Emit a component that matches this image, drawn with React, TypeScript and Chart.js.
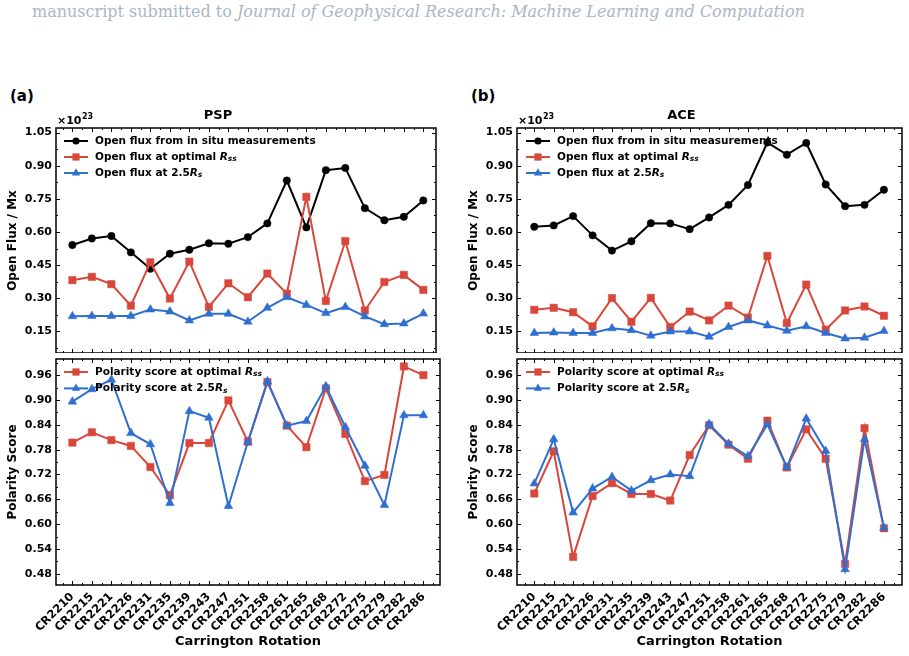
import React, { useEffect, useRef } from 'react';
import { Chart, registerables } from 'chart.js';

Chart.register(...registerables);

const CATEGORIES = ['CR2210', 'CR2215', 'CR2221', 'CR2226', 'CR2231', 'CR2235', 'CR2239', 'CR2243', 'CR2247', 'CR2251', 'CR2258', 'CR2261', 'CR2265', 'CR2268', 'CR2272', 'CR2275', 'CR2279', 'CR2282', 'CR2286'];

// Open flux (units of 1e23 Mx)
const PSP_FLUX_INSITU = [0.541, 0.571, 0.582, 0.508, 0.434, 0.502, 0.52, 0.549, 0.547, 0.577, 0.639, 0.833, 0.621, 0.88, 0.89, 0.708, 0.653, 0.669, 0.743];
const PSP_FLUX_OPT = [0.382, 0.397, 0.364, 0.267, 0.463, 0.299, 0.466, 0.261, 0.368, 0.305, 0.412, 0.321, 0.759, 0.288, 0.559, 0.245, 0.374, 0.406, 0.338];
const PSP_FLUX_25 = [0.219, 0.22, 0.22, 0.22, 0.249, 0.24, 0.2, 0.23, 0.23, 0.194, 0.257, 0.305, 0.27, 0.233, 0.261, 0.218, 0.183, 0.186, 0.231];

const ACE_FLUX_INSITU = [0.624, 0.63, 0.672, 0.585, 0.516, 0.558, 0.64, 0.639, 0.613, 0.666, 0.723, 0.813, 1.005, 0.95, 1.003, 0.815, 0.717, 0.723, 0.791];
const ACE_FLUX_OPT = [0.248, 0.257, 0.237, 0.173, 0.301, 0.194, 0.302, 0.17, 0.24, 0.2, 0.267, 0.213, 0.492, 0.188, 0.362, 0.158, 0.245, 0.263, 0.221];
const ACE_FLUX_25 = [0.143, 0.145, 0.143, 0.143, 0.164, 0.156, 0.131, 0.15, 0.15, 0.126, 0.17, 0.2, 0.177, 0.153, 0.173, 0.143, 0.118, 0.122, 0.152];

// Polarity scores
const PSP_POL_OPT = [0.797, 0.822, 0.803, 0.789, 0.738, 0.67, 0.796, 0.796, 0.899, 0.799, 0.943, 0.838, 0.786, 0.928, 0.818, 0.704, 0.719, 0.981, 0.96];
const PSP_POL_25 = [0.896, 0.926, 0.949, 0.82, 0.793, 0.651, 0.873, 0.857, 0.644, 0.799, 0.945, 0.838, 0.849, 0.933, 0.834, 0.741, 0.646, 0.863, 0.863];
const ACE_POL_OPT = [0.674, 0.776, 0.521, 0.668, 0.699, 0.673, 0.673, 0.657, 0.767, 0.839, 0.792, 0.758, 0.85, 0.737, 0.829, 0.758, 0.504, 0.832, 0.59];
const ACE_POL_25 = [0.698, 0.805, 0.628, 0.686, 0.714, 0.681, 0.706, 0.72, 0.716, 0.842, 0.794, 0.764, 0.841, 0.737, 0.855, 0.777, 0.491, 0.805, 0.591];

const FLUX_TICKS = [0.15, 0.3, 0.45, 0.6, 0.75, 0.9, 1.05];
const POL_TICKS = [0.48, 0.54, 0.6, 0.66, 0.72, 0.78, 0.84, 0.9, 0.96];

const BLACK = '#000000';
const RED = '#d8473a';
const BLUE = '#2f6fd0';
const FONT = 'DejaVu Sans';

type Part = { t: string; it?: boolean; sub?: boolean };
type LegendItem = { parts: Part[]; color: string; marker: string };

const FLUX_LEGEND: LegendItem[] = [
  { parts: [{ t: 'Open flux from in situ measurements' }], color: BLACK, marker: 'circle' },
  { parts: [{ t: 'Open flux at optimal ' }, { t: 'R', it: true }, { t: 'ss', it: true, sub: true }], color: RED, marker: 'rect' },
  { parts: [{ t: 'Open flux at 2.5' }, { t: 'R', it: true }, { t: 's', it: true, sub: true }], color: BLUE, marker: 'triangle' },
];
const POL_LEGEND: LegendItem[] = [
  { parts: [{ t: 'Polarity score at optimal ' }, { t: 'R', it: true }, { t: 'ss', it: true, sub: true }], color: RED, marker: 'rect' },
  { parts: [{ t: 'Polarity score at 2.5' }, { t: 'R', it: true }, { t: 's', it: true, sub: true }], color: BLUE, marker: 'triangle' },
];

function drawMarker(ctx: CanvasRenderingContext2D, kind: string, x: number, y: number, color: string) {
  ctx.save();
  ctx.fillStyle = color;
  ctx.beginPath();
  if (kind === 'circle') {
    ctx.arc(x, y, 3.6, 0, Math.PI * 2);
  } else if (kind === 'rect') {
    ctx.rect(x - 3.6, y - 3.6, 7.2, 7.2);
  } else {
    const r = 4.8;
    ctx.moveTo(x, y - r);
    ctx.lineTo(x + r * 0.866, y + r * 0.5);
    ctx.lineTo(x - r * 0.866, y + r * 0.5);
    ctx.closePath();
  }
  ctx.fill();
  ctx.restore();
}

const frameTicksPlugin = {
  id: 'frameTicks',
  afterDraw(chart: any, _args: any, opts: any) {
    const { ctx, chartArea, scales } = chart;
    const { left, right, top, bottom } = chartArea;
    const x = scales.x;
    const y = scales.y;
    ctx.save();
    ctx.strokeStyle = '#000';
    ctx.lineWidth = 1;
    const yt: number[] = opts.yTicks;
    const step = yt[1] - yt[0];
    const line = (x1: number, y1: number, x2: number, y2: number) => {
      ctx.beginPath();
      ctx.moveTo(x1, y1);
      ctx.lineTo(x2, y2);
      ctx.stroke();
    };
    yt.forEach((v) => {
      const p = Math.round(y.getPixelForValue(v)) + 0.5;
      line(left, p, left + 4, p);
      line(right - 4, p, right, p);
    });
    for (let v = yt[0] - step / 2; v <= y.max; v += step) {
      if (v < y.min) continue;
      const p = Math.round(y.getPixelForValue(v)) + 0.5;
      line(left, p, left + 2, p);
      line(right - 2, p, right, p);
    }
    for (let i = 0; i < CATEGORIES.length; i++) {
      const p = Math.round(x.getPixelForValue(i)) + 0.5;
      line(p, bottom, p, bottom - 4);
      line(p, top, p, top + 4);
    }
    for (let i = -0.5; i <= x.max; i += 1) {
      if (i < x.min) continue;
      const p = Math.round(x.getPixelForValue(i)) + 0.5;
      line(p, bottom, p, bottom - 2);
      line(p, top, p, top + 2);
    }
    ctx.lineWidth = 1.5;
    ctx.strokeRect(left, top, right - left, bottom - top);

    if (opts.offsetText) {
      ctx.fillStyle = '#000';
      ctx.textBaseline = 'alphabetic';
      ctx.textAlign = 'left';
      ctx.font = `bold 11px "${FONT}"`;
      ctx.fillText('×10', left + 1, top - 4);
      const w = ctx.measureText('×10').width;
      ctx.font = `bold 8px "${FONT}"`;
      ctx.fillText('23', left + 1 + w + 0.5, top - 9);
    }

    // legend
    const items: LegendItem[] = opts.legend || [];
    items.forEach((it, k) => {
      const ly = top + opts.legendY + k * opts.legendDy;
      const lx = left + opts.legendX;
      ctx.strokeStyle = it.color;
      ctx.lineWidth = 2;
      line(lx, ly, lx + 24, ly);
      drawMarker(ctx, it.marker, lx + 12, ly, it.color);
      let tx = lx + 31;
      ctx.fillStyle = '#000';
      ctx.textAlign = 'left';
      ctx.textBaseline = 'middle';
      it.parts.forEach((pt) => {
        const size = pt.sub ? 7.5 : 10.5;
        ctx.font = `${pt.it ? 'italic ' : ''}bold ${size}px "${FONT}"`;
        ctx.fillText(pt.t, tx, ly + (pt.sub ? 2.5 : 0));
        tx += ctx.measureText(pt.t).width;
      });
    });
    ctx.restore();
  },
};

function ds(label: string, values: number[], color: string, style: string, order: number) {
  const r = style === 'circle' ? 3.7 : style === 'rect' ? 5.2 : 5;
  return {
    label,
    data: values.map((v, i) => ({ x: i, y: v })),
    borderColor: color,
    backgroundColor: color,
    pointBackgroundColor: color,
    pointBorderColor: color,
    pointBorderWidth: 0.5,
    pointStyle: style,
    pointRadius: r,
    borderWidth: 2,
    tension: 0,
    order,
    clip: false,
  };
}

type PanelCfg = {
  top: boolean;
  title?: string;
  datasets: any[];
  yTicks: number[];
  yMin: number;
  yMax: number;
  xMin: number;
  xMax: number;
  yTitle: string;
  rightPad: number;
  legend: LegendItem[];
  legendX: number;
};

const zeroPad = (s: any) => {
  s.paddingTop = 0;
  s.paddingBottom = 0;
  s.paddingLeft = 0;
  s.paddingRight = 0;
};

function makeConfig(p: PanelCfg): any {
  const tickFont = { family: FONT, size: 11, weight: 'bold' as const };
  return {
    type: 'line',
    data: { datasets: p.datasets },
    plugins: [frameTicksPlugin],
    options: {
      animation: false,
      responsive: false,
      maintainAspectRatio: false,
      layout: { autoPadding: false, padding: { left: 0, right: p.rightPad, top: p.top ? 0 : 3, bottom: 0 } },
      plugins: {
        legend: { display: false },
        tooltip: { enabled: false },
        title: {
          display: !!p.title,
          text: p.title || '',
          color: '#000',
          font: { family: FONT, size: 13, weight: 'bold' },
          padding: { top: 8.2, bottom: 4.2 },
        },
        frameTicks: {
          yTicks: p.yTicks,
          offsetText: p.top,
          legend: p.legend,
          legendX: p.legendX,
          legendY: 13,
          legendDy: p.top ? 16 : 16.4,
        },
      },
      scales: {
        x: {
          type: 'linear',
          min: p.xMin,
          max: p.xMax,
          display: !p.top,
          afterBuildTicks: (s: any) => {
            s.ticks = CATEGORIES.map((_, i) => ({ value: i }));
          },
          afterFit: (s: any) => {
            s.height = p.top ? 0 : 71;
            zeroPad(s);
          },
          grid: { display: false, drawTicks: false },
          border: { display: false },
          ticks: {
            autoSkip: false,
            minRotation: 45,
            maxRotation: 45,
            padding: 5,
            color: '#000',
            font: { family: FONT, size: 11.5, weight: 'bold' },
            callback: (v: number) => CATEGORIES[Math.round(v)] ?? '',
          },
          title: {
            display: true,
            text: 'Carrington Rotation',
            color: '#000',
            font: { family: FONT, size: 13, weight: 'bold' },
            padding: { top: 0, bottom: 7 },
          },
        },
        y: {
          type: 'linear',
          min: p.yMin,
          max: p.yMax,
          afterBuildTicks: (s: any) => {
            s.ticks = p.yTicks.map((v) => ({ value: v }));
          },
          afterFit: (s: any) => {
            s.width = 56;
            zeroPad(s);
          },
          grid: { display: false, drawTicks: false },
          border: { display: false },
          ticks: {
            padding: 4,
            color: '#000',
            font: tickFont,
            callback: (v: number) => v.toFixed(2),
          },
          title: {
            display: true,
            text: p.yTitle,
            color: '#000',
            font: { family: FONT, size: 12, weight: 'bold' },
            padding: { top: 5.8, bottom: 0 },
          },
        },
      },
    },
  };
}

export default function App() {
  const tl = useRef<HTMLCanvasElement>(null);
  const bl = useRef<HTMLCanvasElement>(null);
  const tr = useRef<HTMLCanvasElement>(null);
  const br = useRef<HTMLCanvasElement>(null);

  useEffect(() => {
    const charts: Chart[] = [];
    const fluxSets = (a: number[], b: number[], c: number[]) => [
      ds('Open flux from in situ measurements', a, BLACK, 'circle', 2),
      ds('Open flux at optimal Rss', b, RED, 'rect', 1),
      ds('Open flux at 2.5Rs', c, BLUE, 'triangle', 0),
    ];
    const polSets = (b: number[], c: number[]) => [
      ds('Polarity score at optimal Rss', b, RED, 'rect', 1),
      ds('Polarity score at 2.5Rs', c, BLUE, 'triangle', 0),
    ];
    const topCommon = { top: true, yTicks: FLUX_TICKS, yMin: 0.0525, yMax: 1.0708, yTitle: 'Open Flux / Mx', legend: FLUX_LEGEND };
    const botCommon = { top: false, yTicks: POL_TICKS, yMin: 0.453, yMax: 0.999, yTitle: 'Polarity Score', legend: POL_LEGEND };
    charts.push(new Chart(tl.current!, makeConfig({ ...topCommon, title: 'PSP', datasets: fluxSets(PSP_FLUX_INSITU, PSP_FLUX_OPT, PSP_FLUX_25), xMin: -0.84, xMax: 18.65, rightPad: 14, legendX: 8 })));
    charts.push(new Chart(bl.current!, makeConfig({ ...botCommon, datasets: polSets(PSP_POL_OPT, PSP_POL_25), xMin: -0.84, xMax: 18.85, rightPad: 10, legendX: 8 })));
    charts.push(new Chart(tr.current!, makeConfig({ ...topCommon, title: 'ACE', datasets: fluxSets(ACE_FLUX_INSITU, ACE_FLUX_OPT, ACE_FLUX_25), xMin: -0.89, xMax: 18.93, rightPad: 6, legendX: 9 })));
    charts.push(new Chart(br.current!, makeConfig({ ...botCommon, datasets: polSets(ACE_POL_OPT, ACE_POL_25), xMin: -0.89, xMax: 18.93, rightPad: 6, legendX: 9 })));
    return () => charts.forEach((c) => c.destroy());
  }, []);

  const abs = (left: number, top: number, width: number, height: number): React.CSSProperties => ({ position: 'absolute', left, top, width, height });

  return (
    <div style={{ position: 'fixed', left: 0, top: 0, width: 909, height: 656, background: '#fff', overflow: 'hidden' }}>
      <div style={{ position: 'absolute', left: 32, top: 2, whiteSpace: 'nowrap', fontFamily: '"DejaVu Serif", serif', fontSize: 16, color: '#a9b7c6' }}>
        manuscript submitted to <i>Journal of Geophysical Research: Machine Learning and Computation</i>
      </div>
      <div style={{ position: 'absolute', left: 10, top: 87, fontFamily: FONT, fontWeight: 'bold', fontSize: 15, color: '#000' }}>(a)</div>
      <div style={{ position: 'absolute', left: 471, top: 87, fontFamily: FONT, fontWeight: 'bold', fontSize: 15, color: '#000' }}>(b)</div>
      <canvas ref={tl} width={450} height={253} style={abs(0, 100, 450, 253)} />
      <canvas ref={bl} width={450} height={300} style={abs(0, 356, 450, 300)} />
      <canvas ref={tr} width={447} height={253} style={abs(461, 100, 447, 253)} />
      <canvas ref={br} width={447} height={300} style={abs(461, 356, 447, 300)} />
    </div>
  );
}
